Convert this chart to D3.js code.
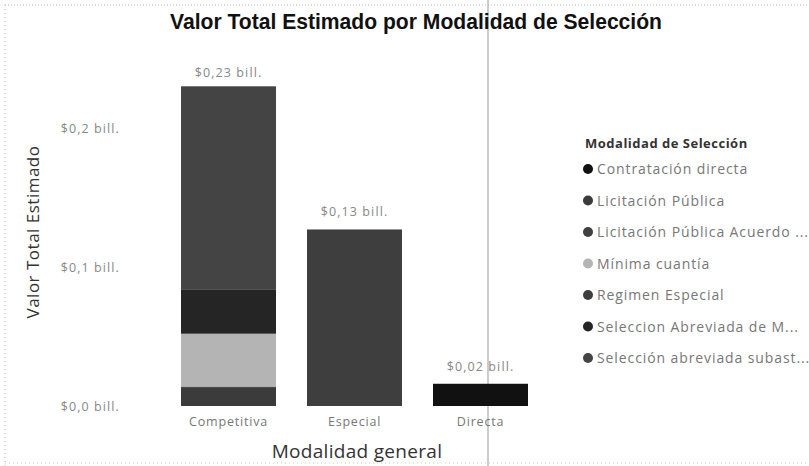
<!DOCTYPE html>
<html><head><meta charset="utf-8">
<script src="https://cdn.jsdelivr.net/npm/d3@7"></script>
<style>html,body{margin:0;padding:0;background:#fff;}svg{display:block;}</style>
</head><body><svg id="c" width="809" height="466"></svg>
<script>
const categories = ["Competitiva", "Especial", "Directa"];
const seriesNames = ["Contratación directa", "Licitación Pública", "Licitación Pública Acuerdo ...", "Mínima cuantía", "Regimen Especial", "Seleccion Abreviada de M...", "Selección abreviada subast..."];
const contratacionDirecta   = [0, 0, 0.016];
const licitacionPublica     = [0.013, 0, 0];
const licitacionAcuerdo     = [0.001, 0, 0];
const minimaCuantia         = [0.038, 0, 0];
const regimenEspecial       = [0, 0.127, 0];
const seleccionAbreviadaM   = [0.032, 0, 0];
const seleccionSubasta      = [0.146, 0, 0];
const totalLabels = ["$0,23 bill.", "$0,13 bill.", "$0,02 bill."];
const yTicks = [0, 0.1, 0.2];
const yTickLabels = ["$0,0 bill.", "$0,1 bill.", "$0,2 bill."];
const seriesColors = ["#111111", "#3b3b3b", "#404040", "#b4b4b4", "#3e3e3e", "#252525", "#444444"];

const seriesValues = [contratacionDirecta, licitacionPublica, licitacionAcuerdo, minimaCuantia, regimenEspecial, seleccionAbreviadaM, seleccionSubasta];
const rows = categories.map((c, i) => {
  const r = {cat: c};
  seriesNames.forEach((s, j) => r[s] = seriesValues[j][i]);
  return r;
});
const stacked = d3.stack().keys(seriesNames)(rows);

const svg = d3.select("#c");
const font = "'Open Sans', 'Noto Sans', sans-serif";

// scan-like frame lines
svg.append("line").attr("x1", 5).attr("x2", 809).attr("y1", 5).attr("y2", 5)
  .attr("stroke", "#bbb").attr("stroke-dasharray", "1,2");
svg.append("line").attr("x1", 5).attr("x2", 5).attr("y1", 5).attr("y2", 466)
  .attr("stroke", "#bbb").attr("stroke-dasharray", "1,3");
svg.append("line").attr("x1", 5).attr("x2", 809).attr("y1", 463).attr("y2", 463)
  .attr("stroke", "#ccc").attr("stroke-dasharray", "1,3");
svg.append("line").attr("x1", 488).attr("x2", 488).attr("y1", 0).attr("y2", 466)
  .attr("stroke", "#999").attr("stroke-width", 1);

const x = d3.scaleBand().domain(categories).range([165.5, 543.5]).paddingInner(0.246).paddingOuter(0.123);
const y = d3.scaleLinear().domain([0, 0.25]).range([406, 58.5]);

// title
svg.append("text").attr("x", 416).attr("y", 29).attr("text-anchor", "middle")
  .attr("font-family", "'Liberation Sans', Arial, sans-serif").attr("font-weight", "bold")
  .attr("font-size", 22).attr("fill", "#111")
  .attr("textLength", 492).attr("lengthAdjust", "spacingAndGlyphs")
  .text("Valor Total Estimado por Modalidad de Selección");

// y axis
const yAxis = d3.axisLeft(y).tickValues(yTicks).tickFormat((d, i) => yTickLabels[i]).tickSize(0).tickPadding(0);
const yg = svg.append("g").attr("transform", "translate(120,0)").call(yAxis);
yg.select(".domain").remove();
yg.selectAll("text").attr("font-family", font).attr("font-size", 12.5).attr("letter-spacing", 1.1).attr("fill", "#888");

svg.append("text").attr("transform", "translate(39,232) rotate(-90)").attr("text-anchor", "middle")
  .attr("font-family", font).attr("font-size", 17).attr("letter-spacing", 0.5).attr("fill", "#333")
  .text("Valor Total Estimado");

// bars
svg.append("g").selectAll("g").data(stacked).join("g")
  .attr("fill", (d, i) => seriesColors[i])
  .selectAll("rect").data(d => d).join("rect")
  .attr("x", d => x(d.data.cat)).attr("width", x.bandwidth())
  .attr("y", d => y(d[1])).attr("height", d => Math.max(0, y(d[0]) - y(d[1])));

// total labels
const totals = rows.map(r => d3.sum(seriesNames, s => r[s]));
svg.append("g").selectAll("text").data(categories).join("text")
  .attr("x", d => x(d) + x.bandwidth() / 2)
  .attr("y", (d, i) => Math.max(y(totals[i]) - 13, 77))
  .attr("text-anchor", "middle").attr("font-family", font).attr("font-size", 12.5).attr("letter-spacing", 1.1).attr("fill", "#888")
  .text((d, i) => totalLabels[i]);

// x axis
const xAxis = d3.axisBottom(x).tickSize(0).tickPadding(0);
const xg = svg.append("g").attr("transform", "translate(0,417)").call(xAxis);
xg.select(".domain").remove();
xg.selectAll("text").attr("font-family", font).attr("font-size", 12.5).attr("letter-spacing", 0.8).attr("fill", "#777");

svg.append("text").attr("x", 357).attr("y", 458).attr("text-anchor", "middle")
  .attr("font-family", font).attr("font-size", 19).attr("letter-spacing", 0.3).attr("fill", "#333")
  .text("Modalidad general");

// legend
svg.append("text").attr("x", 585).attr("y", 148)
  .attr("font-family", font).attr("font-weight", "bold").attr("font-size", 13).attr("letter-spacing", 0.5).attr("fill", "#333")
  .text("Modalidad de Selección");
const leg = svg.append("g").selectAll("g").data(seriesNames).join("g")
  .attr("transform", (d, i) => `translate(588,${169 + i * 31.5})`);
leg.append("circle").attr("r", 5).attr("fill", (d, i) => seriesColors[i]);
leg.append("text").attr("x", 9).attr("y", 5)
  .attr("font-family", font).attr("font-size", 14).attr("letter-spacing", 0.9).attr("fill", "#777").text(d => d);
</script></body></html>
